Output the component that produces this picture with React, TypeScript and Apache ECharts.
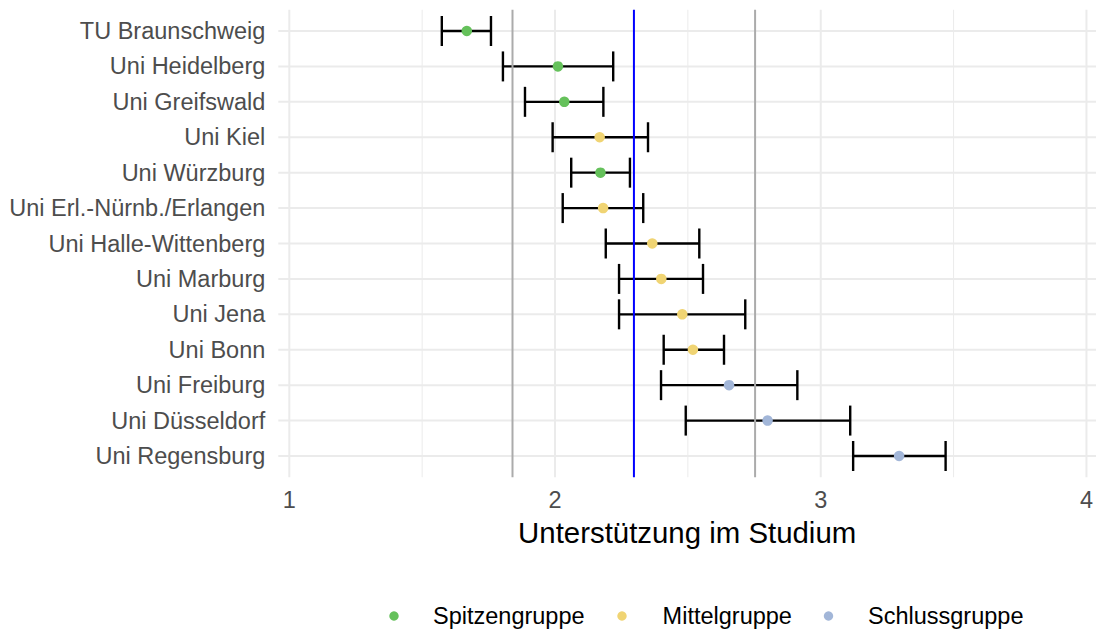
import React, { useEffect, useRef } from "react";
import * as echarts from "echarts";

const universities = [
  "TU Braunschweig",
  "Uni Heidelberg",
  "Uni Greifswald",
  "Uni Kiel",
  "Uni Würzburg",
  "Uni Erl.-Nürnb./Erlangen",
  "Uni Halle-Wittenberg",
  "Uni Marburg",
  "Uni Jena",
  "Uni Bonn",
  "Uni Freiburg",
  "Uni Düsseldorf",
  "Uni Regensburg",
];
const means = [1.668, 2.011, 2.035, 2.168, 2.171, 2.181, 2.366, 2.4, 2.479, 2.519, 2.655, 2.8, 3.295];
const lower = [1.574, 1.804, 1.887, 1.991, 2.061, 2.029, 2.191, 2.241, 2.241, 2.409, 2.399, 2.492, 3.122];
const upper = [1.759, 2.219, 2.182, 2.35, 2.282, 2.332, 2.543, 2.557, 2.716, 2.636, 2.912, 3.111, 3.47];
const groups = [
  "Spitzengruppe", "Spitzengruppe", "Spitzengruppe", "Mittelgruppe", "Spitzengruppe",
  "Mittelgruppe", "Mittelgruppe", "Mittelgruppe", "Mittelgruppe", "Mittelgruppe",
  "Schlussgruppe", "Schlussgruppe", "Schlussgruppe",
];
const groupNames = ["Spitzengruppe", "Mittelgruppe", "Schlussgruppe"];
const groupColors = ["#65c15b", "#f0d473", "#a2b6d8"];
const xTicks = [1, 2, 3, 4];
const xMinorTicks = [1.5, 2.5, 3.5];
const grayRefs = [1.84, 2.753];
const blueRef = [2.297];
const xAxisTitle = "Unterstützung im Studium";

const FONT = "'Liberation Sans', Arial, sans-serif";

export default function App() {
  const ref = useRef<HTMLDivElement>(null);
  useEffect(() => {
    if (!ref.current) return;
    const chart = echarts.init(ref.current, null, { renderer: "svg" });
    const rows = universities.map((_, i) => i + 1);

    const vLineRender = (color: string, width: number) => (params: any, api: any) => {
      const cs = params.coordSys;
      const x = api.coord([api.value(0), 1])[0];
      return {
        type: "line",
        shape: { x1: x, y1: cs.y, x2: x, y2: cs.y + cs.height },
        style: { stroke: color, lineWidth: width },
        silent: true,
      };
    };

    const scatterSeries = groupNames.map((g, gi) => ({
      name: g,
      type: "scatter",
      symbol: "circle",
      symbolSize: 10.5,
      itemStyle: { color: groupColors[gi], opacity: 1 },
      z: 10,
      data: universities
        .map((_, i) => (groups[i] === g ? [means[i], i + 1] : null))
        .filter((d) => d !== null),
    }));

    const legendDotX = [394, 622, 828.5];
    const legendTextX = [433, 662.6, 868];
    const legendGraphic: any[] = [];
    groupNames.forEach((g, gi) => {
      legendGraphic.push({
        type: "circle",
        shape: { cx: legendDotX[gi], cy: 616, r: 4.7 },
        style: { fill: groupColors[gi] },
      });
      legendGraphic.push({
        type: "text",
        x: legendTextX[gi],
        y: 616,
        style: {
          text: g,
          fill: "#000000",
          font: `23.5px ${FONT}`,
          verticalAlign: "middle",
          align: "left",
        },
      });
    });

    chart.setOption({
      animation: false,
      textStyle: { fontFamily: FONT },
      grid: { left: 278.3, top: 9.75, width: 817.7, height: 467.5, containLabel: false },
      xAxis: {
        type: "value",
        min: 0.9586,
        max: 4.036,
        axisLine: { show: false },
        axisTick: { show: false },
        splitLine: { show: false },
        axisLabel: {
          customValues: xTicks,
          color: "#4d4d4d",
          fontSize: 23.5,
          fontFamily: FONT,
          margin: 11,
          formatter: (v: number) => String(v),
        },
        name: xAxisTitle,
        nameLocation: "middle",
        nameGap: 41,
        nameTextStyle: { color: "#000000", fontSize: 29.4, fontFamily: FONT },
      },
      yAxis: {
        type: "value",
        min: 0.4,
        max: 13.6,
        inverse: true,
        axisLine: { show: false },
        axisTick: { show: false },
        splitLine: { show: false },
        axisLabel: {
          customValues: rows,
          color: "#4d4d4d",
          fontSize: 23.5,
          fontFamily: FONT,
          margin: 13,
          formatter: (v: number) => universities[Math.round(v) - 1] ?? "",
        },
      },
      graphic: legendGraphic,
      series: [
        {
          type: "custom",
          name: "gridH",
          silent: true,
          z: 1,
          data: rows.map((r) => [1, r]),
          renderItem: (params: any, api: any) => {
            const cs = params.coordSys;
            const y = api.coord([1, api.value(1)])[1];
            return {
              type: "line",
              shape: { x1: cs.x, y1: y, x2: cs.x + cs.width, y2: y },
              style: { stroke: "#ebebeb", lineWidth: 2 },
            };
          },
        },
        {
          type: "custom",
          name: "gridV",
          silent: true,
          z: 1,
          data: xTicks.map((v) => [v, 1]),
          renderItem: vLineRender("#ebebeb", 2),
        },
        {
          type: "custom",
          name: "gridVMinor",
          silent: true,
          z: 1,
          data: xMinorTicks.map((v) => [v, 1]),
          renderItem: vLineRender("#ebebeb", 1),
        },
        {
          type: "custom",
          name: "errorbars",
          silent: true,
          z: 5,
          data: universities.map((_, i) => [lower[i], upper[i], i + 1]),
          encode: { x: [0, 1], y: 2 },
          renderItem: (params: any, api: any) => {
            const r = api.value(2);
            const a = api.coord([api.value(0), r]);
            const b = api.coord([api.value(1), r]);
            const h = 15;
            const st = { stroke: "#000000", lineWidth: 2.4 };
            return {
              type: "group",
              children: [
                { type: "line", shape: { x1: a[0], y1: a[1], x2: b[0], y2: b[1] }, style: st },
                { type: "line", shape: { x1: a[0], y1: a[1] - h, x2: a[0], y2: a[1] + h }, style: st },
                { type: "line", shape: { x1: b[0], y1: b[1] - h, x2: b[0], y2: b[1] + h }, style: st },
              ],
            };
          },
        },
        {
          type: "custom",
          name: "grayRefs",
          silent: true,
          z: 6,
          data: grayRefs.map((v) => [v, 1]),
          renderItem: vLineRender("#ababab", 2),
        },
        {
          type: "custom",
          name: "blueRef",
          silent: true,
          z: 6,
          data: blueRef.map((v) => [v, 1]),
          renderItem: vLineRender("#0000ff", 2),
        },
        ...scatterSeries,
      ],
    });
    return () => chart.dispose();
  }, []);
  return (
    <div
      ref={ref}
      style={{ position: "fixed", left: 0, top: 0, width: 1096, height: 635, background: "#ffffff" }}
    />
  );
}
